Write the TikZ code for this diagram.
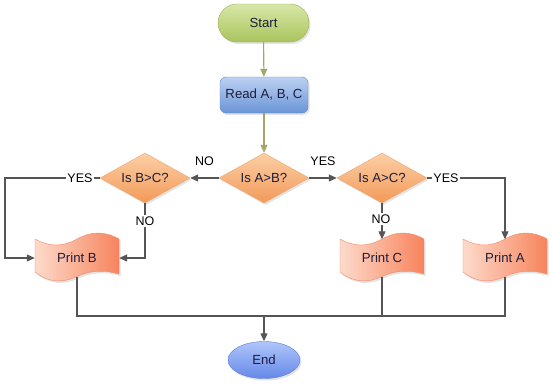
\documentclass[tikz,border=0pt]{standalone}
\usepackage{fontspec}
\setmainfont{Liberation Sans}
\usetikzlibrary{shapes.geometric,arrows.meta,shadows,calc}
\definecolor{txt}{HTML}{1E1E3C}
\definecolor{lnk}{HTML}{555555}
\definecolor{olive}{HTML}{A3A669}
\definecolor{starttop}{HTML}{D8E7A8}
\definecolor{startbot}{HTML}{A9C45C}
\definecolor{startline}{HTML}{9AB35A}
\definecolor{readtop}{HTML}{BCD1F2}
\definecolor{readbot}{HTML}{6A94D6}
\definecolor{readline}{HTML}{5E86C6}
\definecolor{dtop}{HTML}{FBCFA6}
\definecolor{dbot}{HTML}{F39A58}
\definecolor{dline}{HTML}{F2A468}
\definecolor{pleft}{HTML}{FDDACB}
\definecolor{pright}{HTML}{F7845C}
\definecolor{pline}{HTML}{F28A68}
\definecolor{etop}{HTML}{B0C6FA}
\definecolor{ebot}{HTML}{6488E8}
\definecolor{eline}{HTML}{5C7ED8}
\tikzset{
  shad/.style={drop shadow={opacity=0.22, shadow xshift=1.5pt, shadow yshift=-2pt}},
  txtfont/.style={font=\fontsize{13.2}{15}\selectfont, text=txt},
  startbox/.style={txtfont, rectangle, rounded corners=19pt, minimum width=91pt, minimum height=38pt, draw=startline, top color=starttop, bottom color=startbot, shad},
  readbox/.style={txtfont, rectangle, rounded corners=6pt, minimum width=88pt, minimum height=36pt, draw=readline, top color=readtop, bottom color=readbot, shad},
  decision/.style={txtfont, diamond, aspect=2, inner sep=1pt, minimum width=90pt, minimum height=50pt, draw=dline, top color=dtop, bottom color=dbot, shad},
  printbg/.style={draw=pline, left color=pleft, right color=pright, shad},
  printnode/.style={txtfont, rectangle, minimum width=84pt, minimum height=37pt, inner sep=0pt},
  endbox/.style={txtfont, ellipse, minimum width=72pt, minimum height=37pt, inner sep=0pt, draw=eline, top color=etop, bottom color=ebot, shad},
  lbl/.style={font=\fontsize{12.5}{14}\selectfont, text=black, inner sep=1.5pt},
  arr/.style={draw=lnk, line width=1.1pt, -{Triangle[length=8pt,width=7pt]}},
  oarr/.style={draw=olive, line width=1.1pt, -{Triangle[length=8pt,width=7pt]}},
  plain/.style={draw=lnk, line width=1.1pt},
}
\begin{document}
\begin{tikzpicture}[x=1pt,y=-1pt]
\useasboundingbox (0,0) rectangle (552,388);
\node[startbox] (start) at (263.5,23) {Start};
\node[readbox] (read) at (264,95) {Read A, B, C};
\node[decision] (ab) at (264,178) {Is A>B?};
\node[decision] (bc) at (145,178) {Is B>C?};
\node[decision] (ac) at (382,178) {Is A>C?};
\foreach \n/\cx/\t in {pb/77/Print B, pc/382/Print C, pa/505/Print A} {
  \path[printbg, shift={(\cx,259)}]
     (-42,-20) .. controls (-28,-12) and (-14,-12) .. (0,-20)
     .. controls (14,-28) and (28,-28) .. (42,-20)
     -- (42,15) .. controls (28,11) and (14,11) .. (0,17.5)
     .. controls (-14,24) and (-28,24) .. (-42,13) -- cycle;
  \node[printnode] (\n) at (\cx,258) {\t};
}
\node[endbox] (end) at (264,360) {End};
\coordinate (lx) at (5,178);
\coordinate (j) at (264,316);

\draw[oarr] (start) -- (read);
\draw[oarr] (read) -- (ab);
\draw[arr] (ab) -- node[lbl, above=10pt] {NO} (bc);
\draw[arr] (ab) -- node[lbl, above=10pt] {YES} (ac);
\draw[arr] (bc.west) -- (lx) |- (pb.west);
\draw[arr] (bc.south) |- (pb.east);
\draw[arr] (ac.south) -- (pc.north);
\draw[arr] (ac.east) -| (pa.north);
\draw[plain] (pb.south) |- (j);
\draw[plain] (pc.south) |- (j);
\draw[plain] (pa.south) |- (j);
\draw[arr] (j) -- (end);

\node[lbl, fill=white] (ybc) at (80,178) {YES};
\node[lbl, fill=white] (nbc) at (145,221) {NO};
\node[lbl, fill=white] (nac) at (381,219) {NO};
\node[lbl, fill=white] (yac) at (446,178) {YES};
\end{tikzpicture}
\end{document}
